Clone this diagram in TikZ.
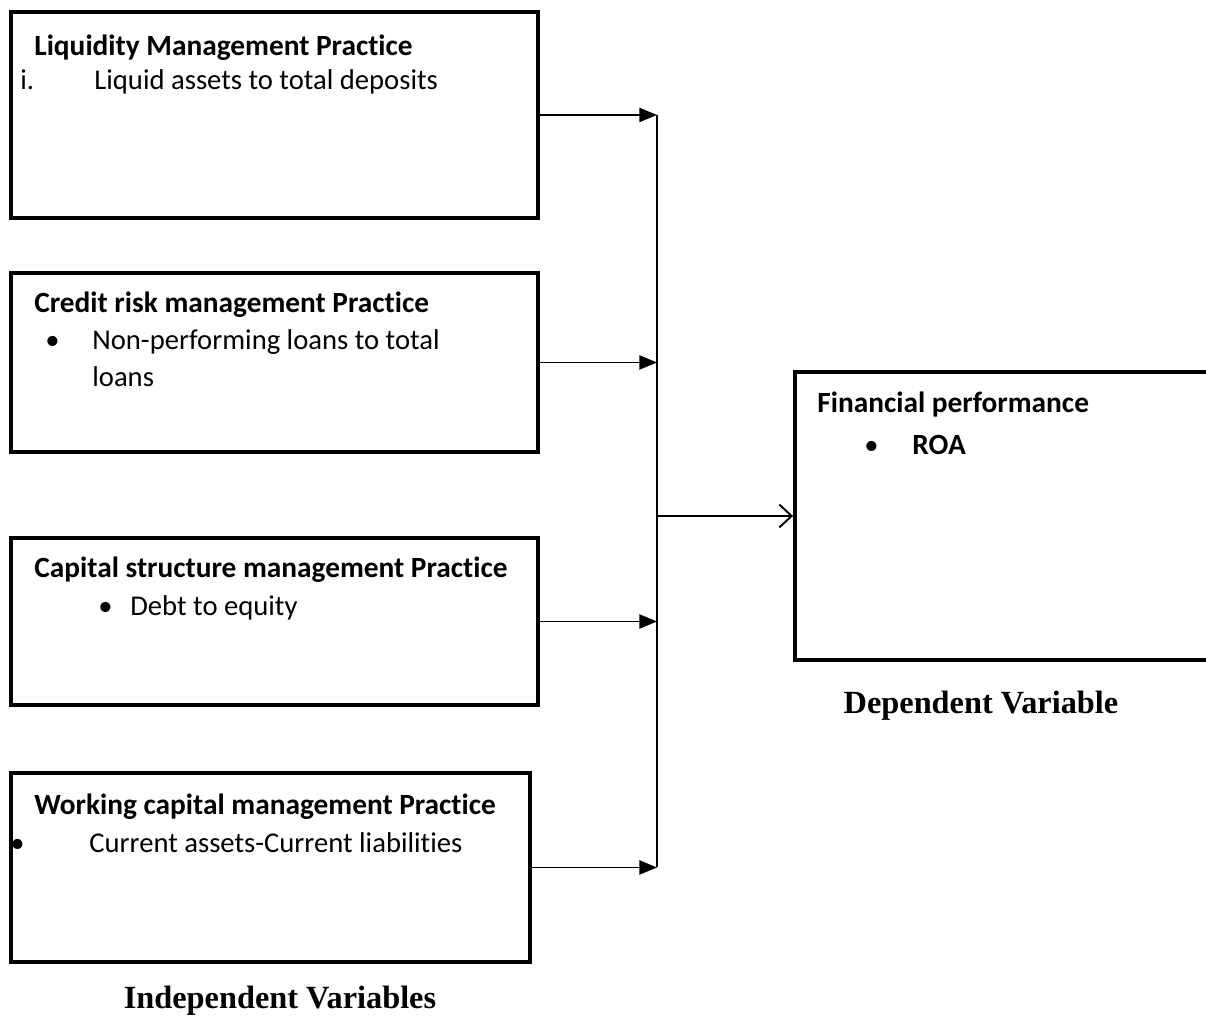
\documentclass[tikz,border=0pt]{standalone}
\usepackage{fontspec}
\setmainfont{Carlito}[Ligatures=NoCommon]
\newfontfamily\timesfont{Liberation Serif}
\usetikzlibrary{positioning,arrows.meta}

\tikzset{
    varbox/.style={draw, line width=2.2pt, inner sep=0pt},
    boxtext/.style={anchor=base west, inner sep=0pt, font=\fontsize{16.3}{19}\selectfont},
    boxtitle/.style={boxtext, font=\bfseries\fontsize{16.7}{19}\selectfont},
    caption/.style={inner sep=0pt, font=\timesfont\bfseries\fontsize{18.4}{22}\selectfont},
    link/.style={line width=1.1pt, -{Triangle[length=10pt,width=8pt]}},
}

\begin{document}
\begin{tikzpicture}
    \useasboundingbox (0,0) rectangle (24.12,20.42);

    % Draw the boxes
    \node[varbox, minimum width=10.54cm, minimum height=4.12cm] (liq)  at (5.49,18.12) {};
    \node[varbox, minimum width=10.54cm, minimum height=3.58cm] (cred) at (5.49,13.17) {};
    \node[varbox, minimum width=10.54cm, minimum height=3.34cm] (cap)  at (5.49,7.99) {};
    \node[varbox, minimum width=10.38cm, minimum height=3.78cm] (work) at (5.41,3.07) {};
    \node[varbox, minimum width=8.40cm,  minimum height=5.76cm] (perf) at (20.10,10.10) {};

    % Texts in the boxes
    \node[boxtitle] (liqtitle) at (0.68,19.30) {Liquidity Management Practice};
    \node[boxtext] (liqnum)   at (0.40,18.62) {i.};
    \node[boxtext] (liqitem)  at (1.88,18.62) {Liquid assets to total deposits};

    \node[boxtitle] (credtitle) at (0.68,14.16) {Credit risk management Practice};
    \node[boxtext] (credbul)   at (0.90,13.42) {\textbullet};
    \node[boxtext] (creditem)  at (1.84,13.42) {Non-performing loans to total};
    \node[boxtext] (creditemb) at (1.84,12.68) {loans};

    \node[boxtitle] (captitle) at (0.68,8.86) {Capital structure management Practice};
    \node[boxtext] (capbul)   at (1.96,8.10) {\textbullet};
    \node[boxtext] (capitem)  at (2.60,8.10) {Debt to equity};

    \node[boxtitle] (worktitle) at (0.68,4.12) {Working capital management Practice};
    \node[boxtext] (workbul)   at (0.20,3.36) {\textbullet};
    \node[boxtext] (workitem)  at (1.78,3.36) {Current assets-Current liabilities};

    \node[boxtitle] (perftitle) at (16.34,12.16) {Financial performance};
    \node[boxtext] (perfbul)   at (17.28,11.32) {\textbullet};
    \node[boxtitle] (perfitem)  at (18.24,11.32) {ROA};

    % Captions
    \node[caption] (dep)   at (19.62,6.30) {Dependent Variable};
    \node[caption] (indep) at (5.60,0.40) {Independent Variables};

    % Draw the connectors
    \coordinate (bus) at (13.14,0);
    \draw[link] (liq.east)  -- (liq.east -| bus);
    \draw[link] (cred.east) -- (cred.east -| bus);
    \draw[link] (cap.east)  -- (cap.east -| bus);
    \draw[link] (work.east) -- (work.east -| bus);
    \draw[line width=1.1pt] (liq.east -| bus) -- (work.east -| bus);
    \draw[line width=1.1pt, -{Straight Barb[length=7pt,width=13pt]}] (perf.west -| bus) -- (perf.west);
\end{tikzpicture}
\end{document}
